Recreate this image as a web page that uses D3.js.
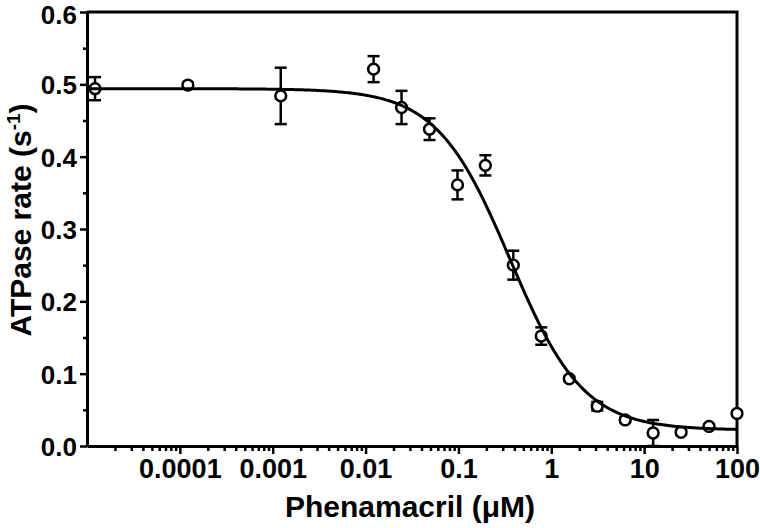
<!DOCTYPE html>
<html>
<head>
<meta charset="utf-8">
<script src="https://cdn.jsdelivr.net/npm/d3@7"></script>
<style>
  body { margin: 0; background: #fff; }
  text { font-family: "Liberation Sans", Arial, sans-serif; font-weight: bold; fill: #000; }
</style>
</head>
<body>
<script>
// ATPase rate vs phenamacril concentration (log x), points with SEM + dose-response fit

// data
const conc = [0.0000122, 0.000122, 0.00122, 0.0122, 0.0244, 0.0488, 0.0977, 0.195, 0.39, 0.78, 1.5625, 3.125, 6.25, 12.5, 25, 50, 100];
const rate = [0.494, 0.499, 0.484, 0.521, 0.468, 0.438, 0.361, 0.388, 0.250, 0.152, 0.093, 0.055, 0.036, 0.018, 0.019, 0.027, 0.045];
const sem  = [0.016, 0.003, 0.039, 0.018, 0.023, 0.015, 0.020, 0.014, 0.020, 0.012, 0.003, 0.006, 0.003, 0.018, 0.003, 0.003, 0.003];

// fitted curve parameters (4 parameter logistic)
const fitTop = 0.494, fitBottom = 0.022, fitIC50 = 0.36, fitHill = 1.1;

const xTickVals = [0.0001, 0.001, 0.01, 0.1, 1, 10, 100];
const xTickLabels = ["0.0001", "0.001", "0.01", "0.1", "1", "10", "100"];
const yTickVals = [0, 0.1, 0.2, 0.3, 0.4, 0.5, 0.6];

const margin = {top: 12, right: 23, bottom: 82, left: 87},
      width = 760 - margin.left - margin.right,
      height = 528 - margin.top - margin.bottom;

const svg = d3.select("body").append("svg")
    .attr("width", 760)
    .attr("height", 528);

const g = svg.append("g")
    .attr("transform", `translate(${margin.left},${margin.top})`);

const x = d3.scaleLog().domain([1e-5, 100]).range([0, width]);
const y = d3.scaleLinear().domain([0, 0.6]).range([height, 0]);

// minor ticks
const xMinor = [];
for (let e = -5; e < 2; e++) {
    for (let k = 2; k <= 9; k++) xMinor.push(k * Math.pow(10, e));
}
const yMinor = [0.05, 0.15, 0.25, 0.35, 0.45, 0.55];

// x axis
g.append("g")
    .attr("transform", `translate(0,${height})`)
    .call(d3.axisBottom(x).tickValues(xMinor).tickSize(5).tickSizeOuter(0).tickFormat(""))
    .call(a => a.select(".domain").remove())
    .selectAll("line").attr("stroke-width", 2.5);

const xAx = g.append("g")
    .attr("transform", `translate(0,${height})`)
    .call(d3.axisBottom(x).tickValues(xTickVals).tickSize(8).tickSizeOuter(0)
        .tickFormat((d, i) => xTickLabels[i]));
xAx.select(".domain").attr("stroke-width", 3);
xAx.selectAll("line").attr("stroke-width", 2.5);
xAx.selectAll("text").attr("font-size", 27).attr("dy", "0.7em").attr("y", 13);

// y axis
g.append("g")
    .call(d3.axisLeft(y).tickValues(yMinor).tickSize(4).tickFormat(""))
    .call(a => a.select(".domain").remove())
    .selectAll("line").attr("stroke-width", 2.5);

const yAx = g.append("g")
    .call(d3.axisLeft(y).tickValues(yTickVals).tickSize(7).tickSizeOuter(0)
        .tickFormat(d3.format(".1f")));
yAx.select(".domain").attr("stroke-width", 3);
yAx.selectAll("line").attr("stroke-width", 2.5);
yAx.selectAll("text").attr("font-size", 26).attr("x", -10)
    .attr("dy", d => d === 0.6 ? "0.45em" : "0.36em");

// frame top & right
g.append("path")
    .attr("d", `M0,0H${width}V${height}`)
    .attr("fill", "none")
    .attr("stroke", "#000")
    .attr("stroke-width", 3);

// error bars
const pts = conc.map((c, i) => ({c: c, v: rate[i], e: sem[i]}));
const eb = g.selectAll(".eb").data(pts).enter().append("g")
    .attr("stroke", "#000").attr("stroke-width", 2.5);
eb.append("line")
    .attr("x1", d => x(d.c)).attr("x2", d => x(d.c))
    .attr("y1", d => y(d.v - d.e)).attr("y2", d => y(d.v + d.e));
eb.append("line")
    .attr("x1", d => x(d.c) - 6).attr("x2", d => x(d.c) + 6)
    .attr("y1", d => y(d.v + d.e)).attr("y2", d => y(d.v + d.e));
eb.append("line")
    .attr("x1", d => x(d.c) - 6).attr("x2", d => x(d.c) + 6)
    .attr("y1", d => y(d.v - d.e)).attr("y2", d => y(d.v - d.e));

// points
g.selectAll(".dot").data(pts).enter().append("circle")
    .attr("cx", d => x(d.c))
    .attr("cy", d => y(d.v))
    .attr("r", 5.4)
    .attr("fill", "#fff")
    .attr("stroke", "#000")
    .attr("stroke-width", 2.5);

// fit curve
const fit = c => fitBottom + (fitTop - fitBottom) / (1 + Math.pow(c / fitIC50, fitHill));
const curveX = d3.range(-5, 2.001, 0.02).map(p => Math.pow(10, p));
g.append("path")
    .datum(curveX)
    .attr("fill", "none")
    .attr("stroke", "#000")
    .attr("stroke-width", 3)
    .attr("d", d3.line().x(c => x(c)).y(c => y(fit(c))));

// axis titles
svg.append("text")
    .attr("x", 410)
    .attr("y", 517)
    .attr("text-anchor", "middle")
    .attr("font-size", 30)
    .text("Phenamacril (μM)");

const yt = svg.append("text")
    .attr("transform", "rotate(-90)")
    .attr("x", -220)
    .attr("y", 31)
    .attr("text-anchor", "middle")
    .attr("font-size", 30);
yt.append("tspan").text("ATPase rate (s");
yt.append("tspan").attr("font-size", 19).attr("dy", -11).text("-1");
yt.append("tspan").attr("dy", 11).text(")");
</script>
</body>
</html>
